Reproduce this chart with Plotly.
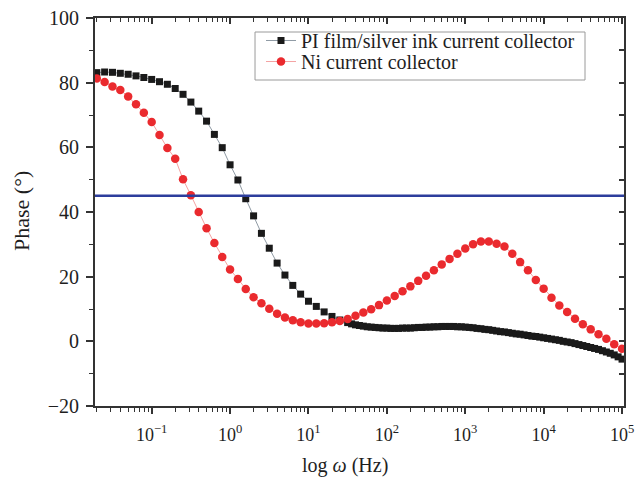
import plotly.graph_objects as go

# log10 frequency grids
red_logf = [round(-1.7 + 0.1 * i, 2) for i in range(68)]
red_phase = [81.3, 80.2, 78.8, 77.7, 75.7, 73.3, 70.7, 67.8,
             63.8, 59.8, 56.5, 50.1, 45.2, 40.0, 35.0, 30.4, 26.1, 22.2,
             19.3, 16.2, 13.6, 11.8, 10.1, 8.5, 7.4, 6.5, 5.9, 5.5,
             5.5, 5.6, 5.9, 6.3, 6.9, 7.9, 8.9, 9.9, 11.2, 12.6,
             14.0, 15.5, 17.0, 18.7, 20.3, 22.0, 23.8, 25.5, 27.1, 28.7,
             30.0, 30.9, 30.9, 30.2, 29.3, 27.1, 24.5, 22.0, 19.0, 16.3,
             13.5, 11.1, 9.1, 7.0, 5.3, 3.7, 2.2, 0.8, -0.9, -2.3]

black_logf = ([round(-1.7 + 0.1 * i, 2) for i in range(33)] +
              [round(1.55 + 0.05 * i, 2) for i in range(70)])
black_phase = [83.1, 83.3, 83.2, 82.9, 82.6, 82.1, 81.6, 81.0,
               80.3, 79.5, 78.2, 76.4, 74.0, 71.2, 68.1, 64.0, 59.9, 54.6,
               49.9, 44.1, 38.8, 33.4, 28.8, 24.2, 20.5, 17.3, 14.6, 12.4,
               10.8, 9.1, 7.7, 6.6, 5.8,
               5.4, 5.1, 4.9, 4.7, 4.5, 4.4, 4.3, 4.2, 4.1, 4.1,
               4.0, 4.0, 4.0, 4.1, 4.1, 4.1, 4.2, 4.3, 4.3, 4.4,
               4.4, 4.5, 4.5, 4.6, 4.6, 4.6, 4.6, 4.5, 4.5, 4.4,
               4.3, 4.2, 4.0, 3.9, 3.7, 3.6, 3.4, 3.2, 3.0, 2.9,
               2.7, 2.5, 2.3, 2.2, 2.0, 1.8, 1.6, 1.5, 1.3, 1.1,
               0.9, 0.7, 0.5, 0.3, 0.0, -0.2, -0.4, -0.7, -1.0, -1.3,
               -1.6, -1.9, -2.2, -2.5, -2.9, -3.3, -3.7, -4.2, -4.8, -5.5]

ref_phase = 45
x_tickvals = [0.1, 1, 10, 100, 1000, 10000, 100000]
x_ticktext = ["10<sup>−1</sup>", "10<sup>0</sup>", "10<sup>1</sup>", "10<sup>2</sup>",
              "10<sup>3</sup>", "10<sup>4</sup>", "10<sup>5</sup>"]
x_minor = [m * 10 ** e for e in range(-2, 5) for m in range(2, 10)]
x_title = "log <i>ω</i> (Hz)"
y_title = "Phase (°)"
black_name = "PI film/silver ink current collector"
red_name = "Ni current collector"

FONT = "Liberation Serif"
X_RANGE = [-1.723, 5.025]
TXT = "#1e1e1e"

red_f = [10 ** v for v in red_logf]
black_f = [10 ** v for v in black_logf]

fig = go.Figure()
fig.add_trace(go.Scatter(
    x=black_f, y=black_phase, mode="lines+markers", name=black_name,
    line=dict(color="#8f9aa4", width=1),
    marker=dict(symbol="square", size=7, color="#1a1a1a"),
    legend="legend",
))
fig.add_trace(go.Scatter(
    x=red_f, y=red_phase, mode="lines+markers", name=red_name,
    line=dict(color="#f4a3a3", width=1),
    marker=dict(symbol="circle", size=8.5, color="#ea2a2e"),
    legend="legend2",
))
fig.add_trace(go.Scatter(
    x=[10 ** X_RANGE[0], 10 ** X_RANGE[1]], y=[ref_phase, ref_phase],
    mode="lines", line=dict(color="#2c3d9c", width=2.5),
    showlegend=False, hoverinfo="skip",
))
# invisible trace for mirrored axes
fig.add_trace(go.Scatter(x=[1], y=[0], xaxis="x2", yaxis="y2",
                         mode="markers", marker=dict(opacity=0),
                         showlegend=False, hoverinfo="skip"))

leg_common = dict(xanchor="left", yanchor="top", bgcolor="rgba(0,0,0,0)",
                  borderwidth=0, font=dict(family=FONT, size=20, color=TXT),
                  itemwidth=30)

fig.update_layout(
    width=638, height=477,
    margin=dict(l=95, r=14, t=18, b=71, autoexpand=False),
    paper_bgcolor="white", plot_bgcolor="white",
    font=dict(family=FONT, size=19, color=TXT),
    xaxis=dict(
        type="log", range=X_RANGE, showgrid=False, zeroline=False, automargin=False,
        showline=True, linecolor="#333", linewidth=2,
        ticks="outside", ticklen=6, tickwidth=1.5, tickcolor="#333",
        tickmode="array", tickvals=x_tickvals, ticktext=x_ticktext,
        ticklabelstandoff=5, ticklabeloverflow="allow",
        tickfont=dict(family=FONT, size=18, color=TXT),
        minor=dict(ticks="outside", ticklen=3.5, tickwidth=1.2, tickcolor="#333",
                   tickmode="array", tickvals=x_minor, showgrid=False),
    ),
    xaxis2=dict(
        type="log", range=X_RANGE, overlaying="x", side="top", anchor="y",
        automargin=False,
        showgrid=False, zeroline=False, showline=True, linecolor="#333", linewidth=2,
        ticks="inside", ticklen=6, tickwidth=1.5, tickcolor="#333",
        tickmode="array", tickvals=x_tickvals, showticklabels=False,
        minor=dict(ticks="inside", ticklen=3.5, tickwidth=1.2, tickcolor="#333",
                   tickmode="array", tickvals=x_minor, showgrid=False),
    ),
    yaxis=dict(
        range=[-20, 100], showgrid=False, zeroline=False, automargin=False,
        showline=True, linecolor="#333", linewidth=2,
        ticks="outside", ticklen=7, tickwidth=1.5, tickcolor="#333",
        tickmode="linear", tick0=-20, dtick=20,
        ticklabelstandoff=3,
        tickfont=dict(family=FONT, size=20, color=TXT),
        minor=dict(ticks="outside", ticklen=4, tickwidth=1.2, tickcolor="#333",
                   dtick=10, tick0=0, showgrid=False),
    ),
    yaxis2=dict(
        range=[-20, 100], overlaying="y", side="right", anchor="x",
        automargin=False,
        showgrid=False, zeroline=False, showline=True, linecolor="#333", linewidth=2,
        ticks="inside", ticklen=5, tickwidth=1.5, tickcolor="#333",
        tickmode="linear", tick0=-20, dtick=10, showticklabels=False,
    ),
    legend=dict(x=0.3138, y=0.9923, **leg_common),
    legend2=dict(x=0.3138, y=0.9381, **leg_common),
    shapes=[
        dict(type="rect", xref="paper", yref="paper",
             x0=0.3025, x1=0.9263, y0=0.8402, y1=0.9639,
             line=dict(color="#9a9a9a", width=1), fillcolor="white", layer="above"),
    ],
    annotations=[
        dict(text=x_title, xref="paper", yref="paper", x=0.4726, y=-0.1546,
             xanchor="center", yanchor="middle", showarrow=False,
             font=dict(family=FONT, size=20, color=TXT)),
        dict(text=y_title, xref="paper", yref="paper", x=-0.138, y=0.5026,
             xanchor="center", yanchor="middle", showarrow=False, textangle=-90,
             font=dict(family=FONT, size=22, color=TXT)),
    ],
)

fig.write_html("out.html", config={"displayModeBar": False},
               post_script="document.body.style.margin='0px';")
